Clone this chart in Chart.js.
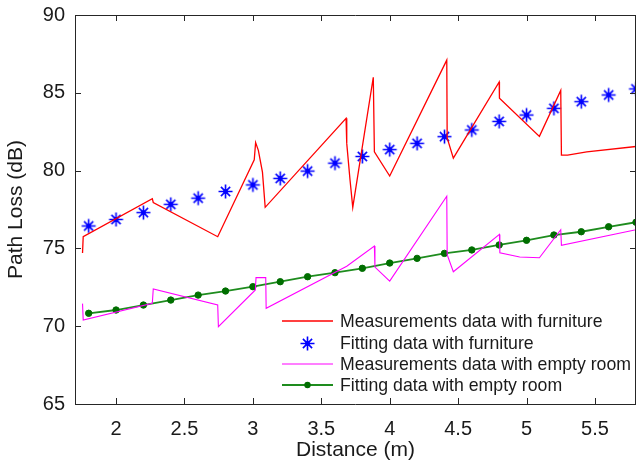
<!DOCTYPE html>
<html>
<head>
<meta charset="utf-8">
<script src="https://cdn.jsdelivr.net/npm/chart.js@4.4.1/dist/chart.umd.min.js"></script>
<style>
  html, body { margin: 0; padding: 0; background: #fff; }
  #wrap { width: 637px; height: 468px; position: relative; }
</style>
</head>
<body>
<div id="wrap"><canvas id="c" width="637" height="468"></canvas></div>
<script>
// ---- Data ----
const xTicks = [2, 2.5, 3, 3.5, 4, 4.5, 5, 5.5];
const yTicks = [65, 70, 75, 80, 85, 90];

// Measurements with furniture (distance m, path loss dB)
const measFurnX = [1.755, 1.76, 2.265, 2.272, 2.743, 3.01, 3.02, 3.04, 3.07, 3.09, 3.681, 3.686, 3.71, 3.73, 3.88, 3.888, 4.0, 4.417, 4.42, 4.465, 4.80, 4.802, 5.094, 5.25, 5.255, 5.30, 5.44, 5.8];
const measFurnY = [74.7, 75.75, 78.2, 77.95, 75.75, 80.7, 81.8, 81.3, 79.9, 77.64, 83.36, 81.75, 79.4, 77.64, 86.0, 81.2, 79.65, 87.1, 82.1, 80.8, 85.7, 84.65, 82.2, 85.15, 81.0, 81.0, 81.2, 81.55];

// Fitting points (both fits share the same distances)
const fitX = [1.8, 2.0, 2.2, 2.4, 2.6, 2.8, 3.0, 3.2, 3.4, 3.6, 3.8, 4.0, 4.2, 4.4, 4.6, 4.8, 5.0, 5.2, 5.4, 5.6, 5.8];
const fitFurnY = [76.44, 76.86, 77.3, 77.83, 78.23, 78.66, 79.08, 79.5, 79.97, 80.48, 80.91, 81.35, 81.75, 82.18, 82.61, 83.16, 83.57, 84.0, 84.43, 84.86, 85.25];

// Measurements with empty room
const measEmptyX = [1.755, 1.76, 2.265, 2.272, 2.743, 2.748, 3.018, 3.023, 3.094, 3.097, 3.686, 3.888, 3.892, 4.0, 4.417, 4.42, 4.465, 4.802, 4.805, 4.95, 5.094, 5.25, 5.255, 5.8];
const measEmptyY = [71.45, 70.4, 71.47, 72.39, 71.36, 69.97, 72.33, 73.12, 73.12, 71.15, 73.85, 75.15, 73.8, 72.9, 78.35, 74.6, 73.5, 75.9, 74.72, 74.45, 74.4, 76.2, 75.2, 76.2];

const fitEmptyY = [70.83, 71.04, 71.36, 71.68, 72.0, 72.26, 72.54, 72.86, 73.18, 73.44, 73.72, 74.06, 74.36, 74.68, 74.9, 75.22, 75.52, 75.86, 76.07, 76.39, 76.68];

const seriesLabels = [
  'Measurements data with furniture',
  'Fitting data with furniture',
  'Measurements data with empty room',
  'Fitting data with empty room'
];

const pts = (xs, ys) => xs.map((x, i) => ({ x: x, y: ys[i] }));

const FONT = "'Liberation Sans', Arial, Helvetica, sans-serif";

// MATLAB-like '*' marker as an image (used as the point style)
function makeStar(color) {
  const c = document.createElement('canvas');
  const S = 17, m = 8.5, r = 7, d = 4.6;
  c.width = S; c.height = S;
  const g = c.getContext('2d');
  g.strokeStyle = color; g.fillStyle = color; g.lineWidth = 1.6;
  g.beginPath();
  g.moveTo(m - r, m); g.lineTo(m + r, m);
  g.moveTo(m, m - r); g.lineTo(m, m + r);
  g.moveTo(m - d, m - d); g.lineTo(m + d, m + d);
  g.moveTo(m - d, m + d); g.lineTo(m + d, m - d);
  g.stroke();
  g.beginPath(); g.arc(m, m, 2.4, 0, Math.PI * 2); g.fill();
  return c;
}
const starImg = makeStar('#0000ff');

// Frame with inward ticks on all four sides (MATLAB style box)
const framePlugin = {
  id: 'frame',
  afterDatasetsDraw(chart) {
    const { ctx, chartArea: a, scales } = chart;
    const xs = scales.x, ys = scales.y;
    const L = 6;
    ctx.save();
    ctx.strokeStyle = '#262626';
    ctx.lineWidth = 1;
    ctx.beginPath();
    ctx.rect(Math.round(a.left) + 0.5, Math.round(a.top) + 0.5,
             Math.round(a.right - a.left) - 1, Math.round(a.bottom - a.top));
    ctx.stroke();
    ctx.beginPath();
    xTicks.forEach(v => {
      const px = Math.round(xs.getPixelForValue(v)) + 0.5;
      ctx.moveTo(px, a.bottom); ctx.lineTo(px, a.bottom - L);
      ctx.moveTo(px, a.top); ctx.lineTo(px, a.top + L);
    });
    yTicks.forEach(v => {
      const py = Math.round(ys.getPixelForValue(v)) + 0.5;
      ctx.moveTo(a.left, py); ctx.lineTo(a.left + L, py);
      ctx.moveTo(a.right, py); ctx.lineTo(a.right - L, py);
    });
    ctx.stroke();
    ctx.restore();
  }
};

// Legend drawn inside the plot, lower right
const legendPlugin = {
  id: 'insideLegend',
  afterDraw(chart) {
    const { ctx, chartArea: a } = chart;
    const boxL = 275, boxT = 309, boxR = a.right - 1, boxB = 396;
    ctx.save();
    ctx.fillStyle = '#ffffff';
    ctx.fillRect(boxL, boxT, boxR - boxL, boxB - boxT);
    const rows = [321, 343, 364, 385];
    const x1 = 282, x2 = 333, xm = (x1 + x2) / 2, tx = 340;
    ctx.font = '17.7px ' + FONT;
    ctx.textBaseline = 'middle';
    ctx.textAlign = 'left';
    chart.data.datasets.forEach((ds, i) => {
      const y = rows[i];
      if (ds.showLine !== false) {
        ctx.strokeStyle = ds.borderColor;
        ctx.lineWidth = ds.borderWidth;
        ctx.beginPath();
        ctx.moveTo(x1, y); ctx.lineTo(x2, y);
        ctx.stroke();
      }
      if (ds.pointRadius > 0) {
        if (ds.pointStyle instanceof HTMLCanvasElement) {
          const im = ds.pointStyle;
          ctx.drawImage(im, Math.round(xm - im.width / 2), Math.round(y - im.height / 2));
        } else {
          ctx.fillStyle = ds.pointBackgroundColor;
          ctx.beginPath();
          ctx.arc(xm, y, ds.pointRadius, 0, Math.PI * 2);
          ctx.fill();
        }
      }
      ctx.fillStyle = '#1a1a1a';
      ctx.fillText(ds.label, tx, y + 1);
    });
    ctx.restore();
  }
};

new Chart(document.getElementById('c'), {
  type: 'line',
  data: {
    datasets: [
      {
        label: seriesLabels[0],
        data: pts(measFurnX, measFurnY),
        borderColor: '#ff0000', borderWidth: 1.3,
        pointRadius: 0, tension: 0, clip: 0
      },
      {
        label: seriesLabels[1],
        data: pts(fitX, fitFurnY),
        showLine: false,
        pointStyle: starImg, pointRadius: 8, pointHoverRadius: 8,
        pointBorderColor: '#0000ff', pointBackgroundColor: '#0000ff',
        borderColor: '#0000ff', clip: 0
      },
      {
        label: seriesLabels[2],
        data: pts(measEmptyX, measEmptyY),
        borderColor: '#ff00ff', borderWidth: 1.1,
        pointRadius: 0, tension: 0, clip: 0
      },
      {
        label: seriesLabels[3],
        data: pts(fitX, fitEmptyY),
        borderColor: '#1e8c1e', borderWidth: 1.8,
        pointStyle: 'circle', pointRadius: 3.2, pointHoverRadius: 3.2,
        pointBackgroundColor: '#006e00', pointBorderColor: '#006e00',
        pointBorderWidth: 1, tension: 0, clip: 0
      }
    ]
  },
  plugins: [framePlugin, legendPlugin],
  options: {
    responsive: false,
    animation: false,
    events: [],
    layout: { autoPadding: false, padding: { left: 0, top: 15, right: 1, bottom: 0 } },
    plugins: { legend: { display: false }, tooltip: { enabled: false } },
    scales: {
      x: {
        type: 'linear', min: 1.7, max: 5.8,
        grid: { display: false, drawTicks: false },
        border: { display: false },
        afterBuildTicks: s => { s.ticks = xTicks.map(v => ({ value: v })); },
        afterFit: s => { s.height = 64; s.paddingLeft = 0; s.paddingRight = 0; },
        ticks: {
          color: '#1a1a1a', padding: 13, maxRotation: 0,
          font: { family: FONT, size: 20 },
          callback: v => String(v)
        },
        title: {
          display: true, text: 'Distance (m)', color: '#1a1a1a',
          font: { family: FONT, size: 21 },
          padding: { top: 0, bottom: 5 }
        }
      },
      y: {
        type: 'linear', min: 65, max: 90,
        grid: { display: false, drawTicks: false },
        border: { display: false },
        afterBuildTicks: s => { s.ticks = yTicks.map(v => ({ value: v })); },
        afterFit: s => { s.width = 75; s.paddingTop = 0; s.paddingBottom = 0; },
        ticks: {
          color: '#1a1a1a', padding: 10,
          font: { family: FONT, size: 20 },
          callback: v => String(v)
        },
        title: {
          display: true, text: 'Path Loss (dB)', color: '#1a1a1a',
          font: { family: FONT, size: 21 },
          padding: { top: 4, bottom: 0 }
        }
      }
    }
  }
});
</script>
</body>
</html>
